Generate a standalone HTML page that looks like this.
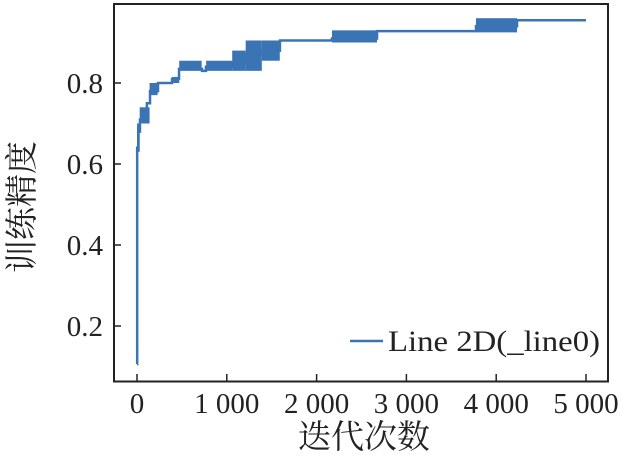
<!DOCTYPE html>
<html><head><meta charset="utf-8"><style>
html,body{margin:0;padding:0;background:#fff;width:628px;height:456px;overflow:hidden}
svg text{font-family:"Liberation Serif","Noto Serif CJK SC",serif;fill:#222}
</style></head><body>
<svg id="chart" width="628" height="456" viewBox="0 0 628 456" xmlns="http://www.w3.org/2000/svg">
<g id="plot"></g>
<rect x="114" y="4" width="494" height="377.5" fill="none" stroke="#222" stroke-width="2"/>
<g id="xt"></g>
<g id="yt"></g>
<text x="364" y="448" font-size="33" text-anchor="middle">迭代次数</text>
<text transform="translate(33,207) rotate(-90)" font-size="33" text-anchor="middle">训练精度</text>
<g>
<line x1="350" y1="341" x2="383" y2="341" stroke="#3a74b5" stroke-width="2.5"/>
<text x="388" y="351" font-size="30" textLength="212" lengthAdjust="spacingAndGlyphs">Line 2D(_line0)</text>
</g>
</svg>
<script>
const iters=[0,2,15,33,67,110,145,234,390,468,724,768,1058,1203,1392,1592,2171,2673,3775,4232,5000];
const acc=[0.106,0.64,0.68,0.71,0.73,0.75,0.78,0.80,0.81,0.835,0.83,0.84,0.85,0.87,0.88,0.905,0.91,0.928,0.94,0.955,0.955];
const bandStart=[0,30,140,390,470,770,1060,1210,1390,2171,3775];
const bandEnd=[30,140,230,470,720,1060,1210,1390,1590,2673,4232];
const bandLow=[0.63,0.70,0.77,0.80,0.83,0.83,0.83,0.83,0.855,0.90,0.925];
const bandHigh=[0.70,0.74,0.80,0.815,0.855,0.855,0.88,0.905,0.905,0.93,0.96];
const xTicks=[0,1000,2000,3000,4000,5000];
const xTickLabels=["0","1 000","2 000","3 000","4 000","5 000"];
const yTicks=[0.2,0.4,0.6,0.8];
const yTickLabels=["0.2","0.4","0.6","0.8"];
const X=v=>137+v*0.0898;
const Y=v=>326-(v-0.2)*405;
const NS="http://www.w3.org/2000/svg";
const plot=document.getElementById('plot');
const col="#3a74b5";
for(let i=0;i<bandStart.length;i++){
 const r=document.createElementNS(NS,'rect');
 
 
 r.setAttribute('x',X(bandStart[i]));r.setAttribute('width',Math.max(2,X(bandEnd[i])-X(bandStart[i])));
 r.setAttribute('y',Y(bandHigh[i]));r.setAttribute('height',Y(bandLow[i])-Y(bandHigh[i]));
 r.setAttribute('fill',col);plot.appendChild(r);
}
let d='';
for(let i=0;i<iters.length;i++){
 if(i===0)d+='M'+X(iters[i])+','+Y(acc[i]);
 else d+='H'+X(iters[i])+'V'+Y(acc[i]);
}
const p=document.createElementNS(NS,'path');


p.setAttribute('d',d);p.setAttribute('fill','none');p.setAttribute('stroke',col);p.setAttribute('stroke-width','2.5');
plot.appendChild(p);
const xt=document.getElementById('xt'),yt=document.getElementById('yt');
xTicks.forEach((v,i)=>{
 const l=document.createElementNS(NS,'line');
 
 
 l.setAttribute('x1',X(v));l.setAttribute('x2',X(v));l.setAttribute('y1',381);l.setAttribute('y2',374);l.setAttribute('stroke','#222');l.setAttribute('stroke-width','1.5');
 xt.appendChild(l);
 const t=document.createElementNS(NS,'text');
 
 
 t.setAttribute('x',X(v));t.setAttribute('y',413);t.setAttribute('font-size','29');t.setAttribute('text-anchor','middle');
 t.textContent=xTickLabels[i];xt.appendChild(t);
});
yTicks.forEach((v,i)=>{
 const l=document.createElementNS(NS,'line');
 
 
 l.setAttribute('x1',114);l.setAttribute('x2',121);l.setAttribute('y1',Y(v));l.setAttribute('y2',Y(v));l.setAttribute('stroke','#222');l.setAttribute('stroke-width','1.5');
 yt.appendChild(l);
 const t=document.createElementNS(NS,'text');
 
 
 t.setAttribute('x',103);t.setAttribute('y',Y(v)+10);t.setAttribute('font-size','29');t.setAttribute('text-anchor','end');
 t.textContent=yTickLabels[i];yt.appendChild(t);
});
</script>
</body></html>
